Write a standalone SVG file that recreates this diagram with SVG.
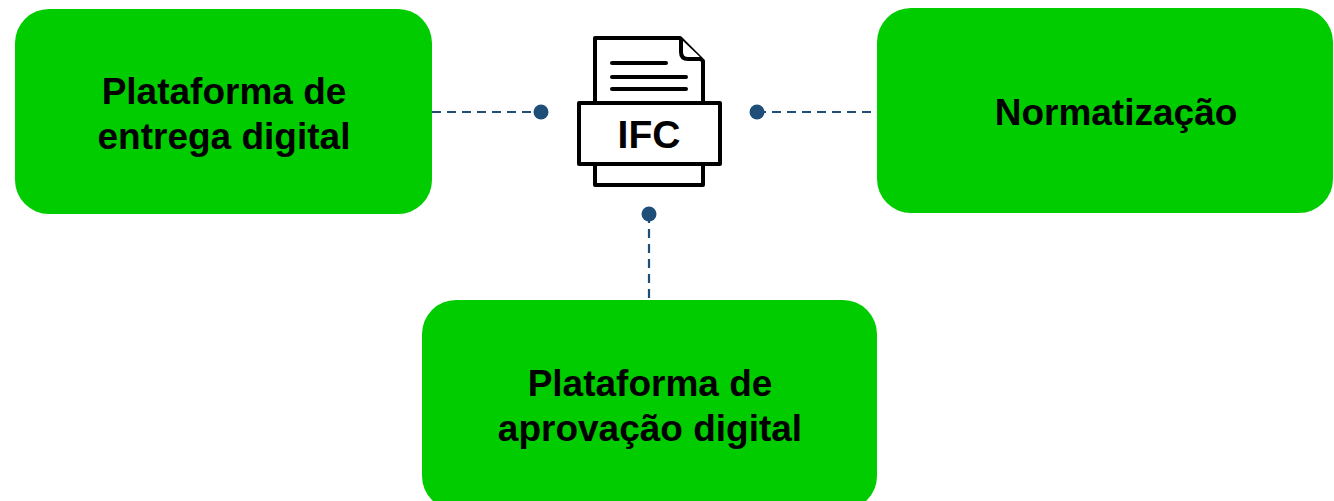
<svg xmlns="http://www.w3.org/2000/svg" width="1334" height="501" viewBox="0 0 1334 501">
<style>
.box{fill:#00CC00;}
.lbl{font-family:"Liberation Sans",Arial,sans-serif;font-weight:bold;font-size:37px;fill:#000;text-anchor:middle;}
.conn{stroke:#1F4E79;stroke-width:2.2;stroke-dasharray:9,6;fill:none;}
.dot{fill:#1F4E79;}
.ico{fill:#fff;stroke:#000;stroke-width:4;stroke-linejoin:round;}
.ln{stroke:#000;stroke-width:4;stroke-linecap:round;}
</style>
<rect width="1334" height="501" fill="#fff"/>
<g id="connectors">
<line class="conn" x1="432" y1="112" x2="541" y2="112"/>
<circle class="dot" cx="541" cy="112" r="7.5"/>
<line class="conn" x1="757" y1="112" x2="877" y2="112"/>
<circle class="dot" cx="757" cy="112" r="7.5"/>
<line class="conn" x1="649" y1="214" x2="649" y2="300"/>
<circle class="dot" cx="649" cy="214" r="7.5"/>
</g>
<g id="node-entrega">
<rect class="box" x="15" y="9" width="417" height="205" rx="34"/>
<text class="lbl" x="224" y="104">Plataforma de</text>
<text class="lbl" x="224" y="149">entrega digital</text>
</g>
<g id="node-normatizacao">
<rect class="box" x="877" y="8" width="456" height="205" rx="34"/>
<text class="lbl" x="1116" y="125">Normatização</text>
</g>
<g id="node-aprovacao">
<rect class="box" x="422" y="300" width="455" height="210" rx="34"/>
<text class="lbl" x="650" y="396">Plataforma de</text>
<text class="lbl" x="650" y="441">aprovação digital</text>
</g>
<g id="node-ifc">
<path class="ico" d="M595,38 L680,38 L703,61 L703,104 L595,104 Z"/>
<path class="ico" d="M681,39 L681,52 Q681,59 688,59 L702,59"/>
<line class="ln" x1="612" y1="63" x2="666" y2="63"/>
<line class="ln" x1="612" y1="77" x2="686" y2="77"/>
<line class="ln" x1="612" y1="89" x2="686" y2="89"/>
<rect class="ico" x="595" y="164" width="108" height="21"/>
<rect class="ico" x="579" y="103" width="141" height="61"/>
<text x="649" y="148" style="font-family:'Liberation Sans',Arial,sans-serif;font-weight:bold;font-size:39px;fill:#000;text-anchor:middle;">IFC</text>
</g>
</svg>
